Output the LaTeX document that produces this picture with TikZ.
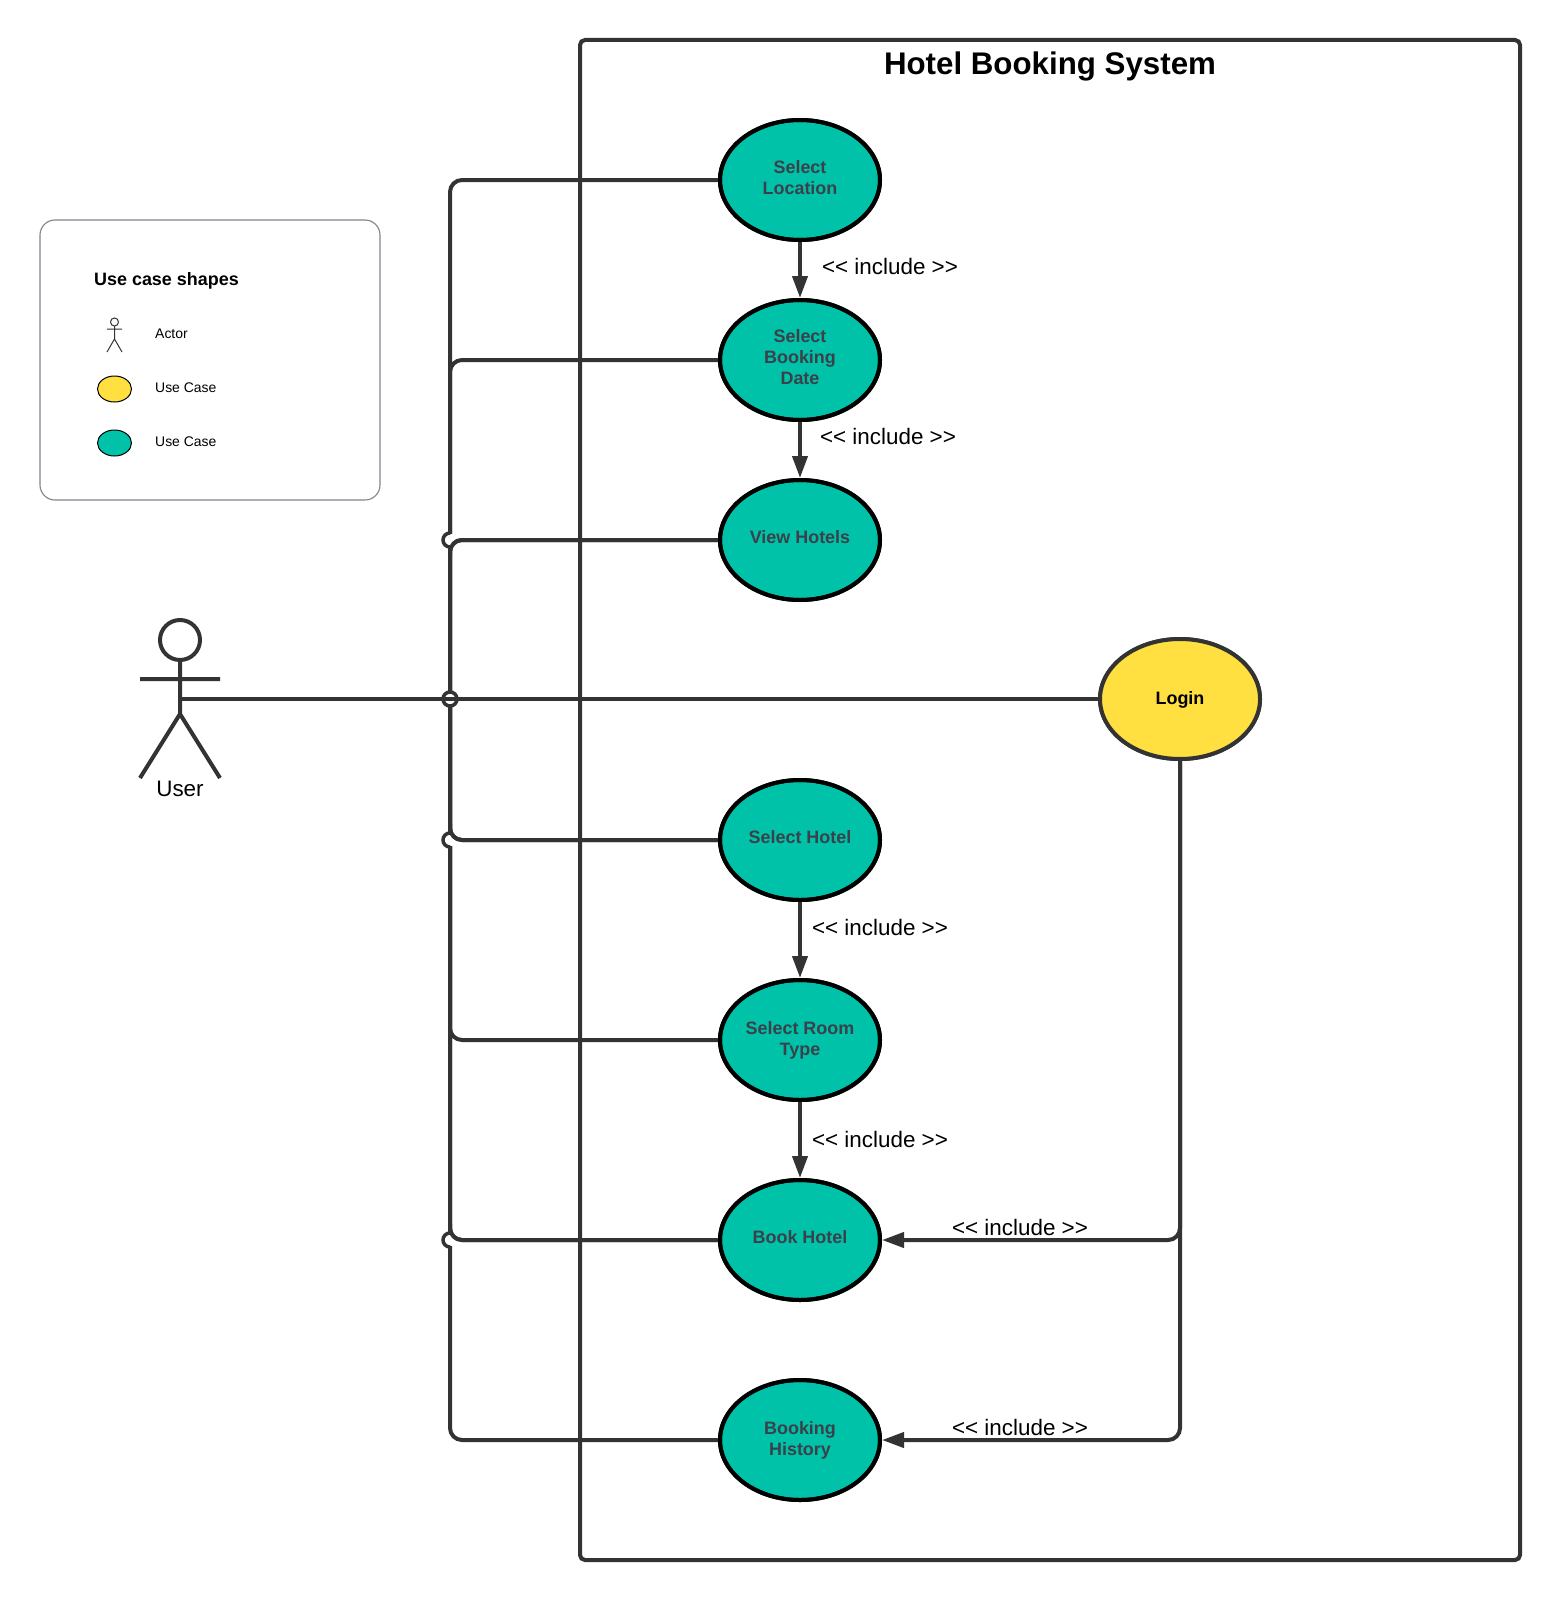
\documentclass[tikz,border=0pt]{standalone}
\usepackage{fontspec}
\setmainfont{Liberation Sans}
\usetikzlibrary{arrows.meta,shapes.geometric}
\definecolor{ink}{HTML}{333333}
\definecolor{teal}{HTML}{00C2A8}
\definecolor{sun}{HTML}{FFE040}
\definecolor{slatetext}{HTML}{3A414A}
\definecolor{legendline}{HTML}{7F848C}
\newcommand{\incl}{{<}{<} include {>}{>}}
\tikzset{
  x=1bp,y=-1bp,
  conn/.style={draw=ink,line width=4bp,rounded corners=12bp},
  inc/.style={conn,-{Triangle[length=22bp,width=15bp]},shorten >=2bp},
  hopline/.style={draw=ink,line width=3.5bp},
  hopcut/.style={draw=white,line width=6bp},
  figure/.style={draw=ink,line width=4bp},
  smallfigure/.style={draw=ink,line width=1bp},
  uc/.style={ellipse,draw=black,line width=4bp,minimum width=160bp,minimum height=120bp,inner sep=0pt,outer sep=0pt,fill=teal},
  ucsun/.style={uc,draw=ink,fill=sun},
  uctext/.style={font=\fontsize{18}{21}\bfseries\selectfont,text=slatetext,align=center,inner sep=0pt},
  inclabel/.style={font=\fontsize{22.5}{26}\selectfont,text=black,inner sep=0pt},
  legtext/.style={font=\fontsize{14}{16}\selectfont,text=black,inner sep=0pt,anchor=west},
  legshape/.style={ellipse,draw=black,line width=1bp,minimum width=34bp,minimum height=26bp,inner sep=0pt},
}
\begin{document}
\begin{tikzpicture}
\useasboundingbox (0,0) rectangle (1560,1600);
\fill[white] (0,0) rectangle (1560,1600);

% system boundary
\draw[draw=ink,line width=4bp,rounded corners=5bp] (580,40) rectangle (1520,1560);
\node[font=\fontsize{31.4}{38}\bfseries\selectfont,inner sep=0pt] (title) at (1050,66) {Hotel Booking System};

% legend
\draw[draw=legendline,line width=1.1bp,rounded corners=15bp] (40,220) rectangle (380,500);
\node[font=\fontsize{18}{22}\bfseries\selectfont,inner sep=0pt,anchor=west] (legtitle) at (94,281) {Use case shapes};
\draw[smallfigure] (114.5,322) circle[radius=4bp];
\draw[smallfigure] (114.5,326) -- (114.5,339) (107,329) -- (122,329) (107,352) -- (114.5,339) -- (122,352);
\node[legtext] (legactor) at (155,334) {Actor};
\node[legshape,fill=sun] (legyellow) at (114.5,389) {};
\node[legtext] (legyellowtext) at (155,388) {Use Case};
\node[legshape,fill=teal] (legteal) at (114.5,443) {};
\node[legtext] (legtealtext) at (155,442) {Use Case};

% use cases
\coordinate (hip) at (180,699);
\coordinate (trunk) at (450,699);
\node[uc] (loc) at (800,180) {};
\node[uc] (date) at (800,360) {};
\node[uc] (view) at (800,540) {};
\node[ucsun] (login) at (1180,699) {};
\node[uc] (hotel) at (800,840) {};
\node[uc] (room) at (800,1040) {};
\node[uc] (book) at (800,1240) {};
\node[uc] (hist) at (800,1440) {};

% connectors from the actor
\draw[conn] (hip) -- (login.west);
\foreach \t in {loc,date,view,hotel,room,book,hist}
  \draw[conn] (trunk) |- (\t.west);

% line hops
\draw[hopcut] (450,534) -- (450,546);
\draw[hopline] (450,533) arc[start angle=90,end angle=270,radius=7bp];
\coordinate (viewjoin) at (450,556);
\draw[conn] (viewjoin) |- (view.west);

\draw[hopcut] (450,834) -- (450,846);
\draw[hopline] (450,833) arc[start angle=90,end angle=270,radius=7bp];
\coordinate (hoteljoin) at (450,824);
\draw[conn] (hoteljoin) |- (hotel.west);

\draw[hopcut] (450,1234) -- (450,1246);
\draw[hopline] (450,1233) arc[start angle=90,end angle=270,radius=7bp];
\coordinate (bookjoin) at (450,1224);
\draw[conn] (bookjoin) |- (book.west);

\draw[hopcut] (450,693) -- (450,705);
\draw[hopline] (450,699) circle[radius=7bp];
\draw[conn] (hip) -- (login.west);

% include connectors
\draw[inc] (loc.south) -- (date.north);
\draw[inc] (date.south) -- (view.north);
\draw[inc] (hotel.south) -- (room.north);
\draw[inc] (room.south) -- (book.north);
\draw[inc] (login.south) |- (book.east);
\draw[inc] (login.south) |- (hist.east);

% redraw outlines and texts on top
\node[uc,fill=none] at (loc) {};
\node[uc,fill=none] at (date) {};
\node[uc,fill=none] at (view) {};
\node[ucsun] at (login) {};
\node[uc,fill=none] at (hotel) {};
\node[uc,fill=none] at (room) {};
\node[uc,fill=none] at (book) {};
\node[uc,fill=none] at (hist) {};
\node[uctext] (loct) at (800,178) {Select\\Location};
\node[uctext] (datet) at (800,357.5) {Select\\Booking\\Date};
\node[uctext] (viewt) at (800,537.5) {View Hotels};
\node[uctext,text=black] (logint) at (1180,699.5) {Login};
\node[uctext] (hotelt) at (800,837.5) {Select Hotel};
\node[uctext] (roomt) at (800,1040) {Select Room\\Type};
\node[uctext] (bookt) at (800,1237.5) {Book Hotel};
\node[uctext] (histt) at (800,1440) {Booking\\History};

% include labels
\node[inclabel] (i1) at (890,266) {\incl};
\node[inclabel] (i2) at (888,436) {\incl};
\node[inclabel] (i3) at (880,927) {\incl};
\node[inclabel] (i4) at (880,1139) {\incl};
\node[inclabel] (i5) at (1020,1227) {\incl};
\node[inclabel] (i6) at (1020,1427) {\incl};

% actor
\draw[figure] (180,640) circle[radius=20bp];
\draw[figure] (180,660) -- (180,714) (140,679) -- (220,679) (140,778) -- (180,714) -- (220,778);
\node[inclabel] (user) at (180,789) {User};
\end{tikzpicture}
\end{document}
